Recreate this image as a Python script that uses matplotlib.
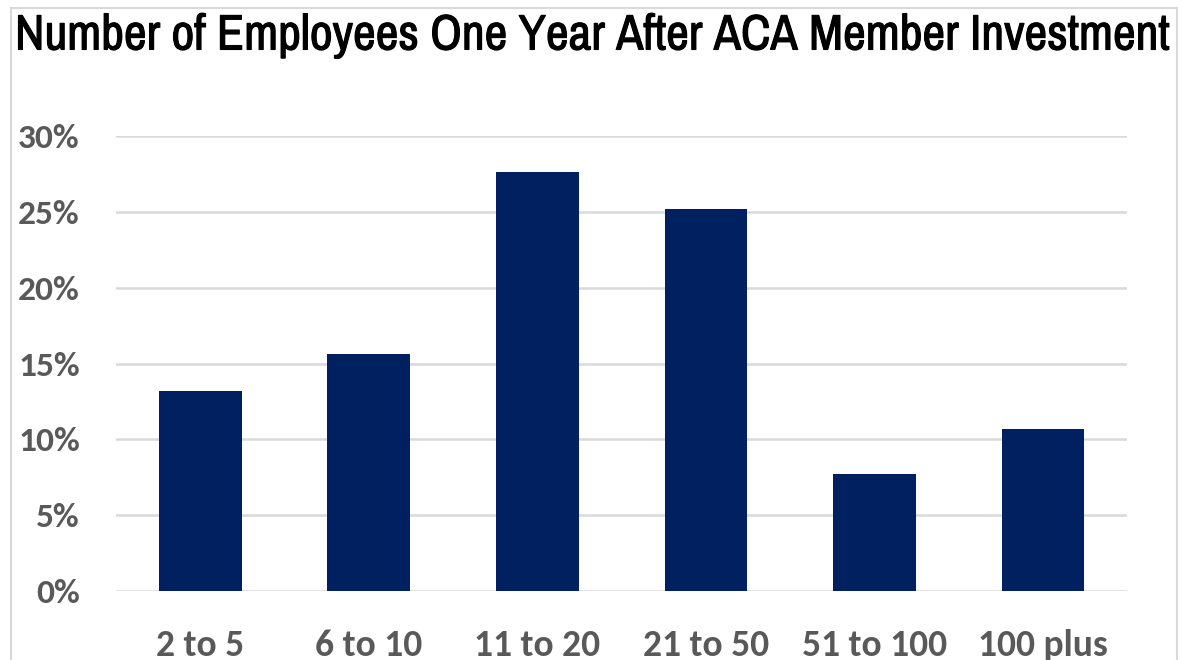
""" bar chart: employees one year after ACA member investment """
import matplotlib.pyplot as plt
import matplotlib.patheffects as pe
from matplotlib.patches import Rectangle


categories = ['2 to 5', '6 to 10', '11 to 20', '21 to 50', '51 to 100', '100 plus']
shares = [13.2, 15.6, 27.6, 25.2, 7.7, 10.7]
yticks = [0, 5, 10, 15, 20, 25, 30]

BAR_COLOR = '#002060'
GRID_COLOR = '#d9d9d9'
TEXT_GRAY = '#595959'
TICK_FONT = ['Carlito', 'Lato', 'DejaVu Sans']
TITLE_FONT = ['Liberation Sans Narrow', 'Archivo Narrow', 'PT Sans Narrow', 'DejaVu Sans']

fig = plt.figure(figsize=(11.9, 6.6), dpi=100)
ax = fig.add_axes([0.0975, 0.1045, 0.8496, 0.6894])

x = range(len(categories))
ax.bar(x, shares, width=0.49, color=BAR_COLOR, zorder=3)

ax.set_xlim(-0.5, len(categories) - 0.5)
ax.set_ylim(0, 30)
ax.set_yticks(yticks)
ax.set_yticklabels([f'{t}%' for t in yticks])
ax.set_xticks(list(x))
ax.set_xticklabels(categories)

ax.grid(axis='y', color=GRID_COLOR, lw=1.8, zorder=0)
for s in ax.spines.values():
    s.set_visible(False)
ax.tick_params(length=0, labelcolor=TEXT_GRAY)
ax.tick_params(axis='y', pad=26)
ax.tick_params(axis='x', pad=27)
for lab in ax.get_yticklabels():
    lab.set_fontfamily(TICK_FONT)
    lab.set_fontweight('bold')
    lab.set_fontsize(25.5)
for lab in ax.get_xticklabels():
    lab.set_fontfamily(TICK_FONT)
    lab.set_fontweight('bold')
    lab.set_fontsize(27)

# outer frame of the chart area
fig.patches.append(Rectangle((11/1190, -0.05), 1166/1190, 1.05 - 8/660,
                             transform=fig.transFigure, fill=False,
                             edgecolor=GRID_COLOR, lw=1.5))

title = fig.text(15/1190, 1 - 36/660,
                 'Number of Employees One Year After ACA Member Investment',
                 family=TITLE_FONT, fontweight='bold',
                 fontsize=34, va='center', ha='left',
                 path_effects=[pe.withStroke(linewidth=0.8, foreground='black')])

# fit title width to the chart frame
fig.canvas.draw()
w = title.get_window_extent().width
title.set_fontsize(34 * 1155 / w)

fig.savefig('out.png', dpi=100)
